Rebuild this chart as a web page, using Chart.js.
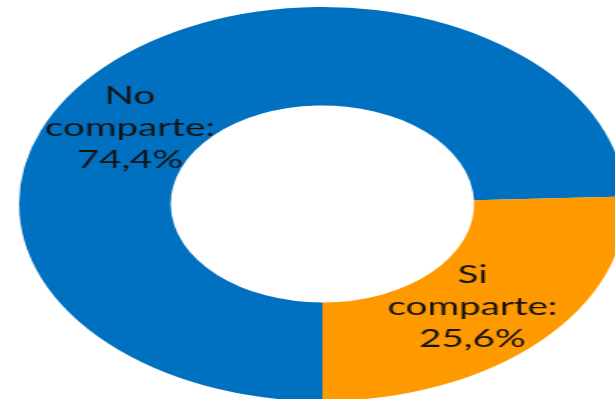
<!DOCTYPE html>
<html>
<head>
<meta charset="utf-8">
<script src="https://cdn.jsdelivr.net/npm/chart.js@4"></script>
<style>
  html, body { margin: 0; padding: 0; background: #fff; overflow: hidden; width: 615px; height: 399px; }
  #wrap { position: absolute; left: -1.4px; top: 0; transform: scaleX(1.54); transform-origin: 0 0; }
</style>
</head>
<body>
<div id="wrap"><canvas id="chart" width="420" height="420" style="width:420px;height:420px"></canvas></div>
<script>
const categories = ['No comparte', 'Si comparte'];
const shares = [74.4, 25.6];
const sliceColors = ['#0070C0', '#FF9900'];

// draws "No / comparte: / 74,4%" inside each slice
const sliceLabels = {
  id: 'sliceLabels',
  afterDatasetsDraw(chart, args, opts) {
    const ctx = chart.ctx;
    const meta = chart.getDatasetMeta(0);
    meta.data.forEach((arc, i) => {
      const p = arc.getProps(['x', 'y', 'startAngle', 'endAngle', 'innerRadius', 'outerRadius'], true);
      const mid = (p.startAngle + p.endAngle) / 2 + (opts.shift[i] || 0) * Math.PI / 180;
      const r = (p.innerRadius + p.outerRadius) / 2 * (opts.radial[i] || 1);
      const cx = p.x + Math.cos(mid) * r;
      const cy = p.y + Math.sin(mid) * r;
      const words = chart.data.labels[i].split(' ');
      const lines = [words.slice(0, -1).join(' '), words[words.length - 1] + ':',
        chart.data.datasets[0].data[i].toFixed(1).replace('.', ',') + '%'];
      ctx.save();
      ctx.font = opts.font;
      ctx.fillStyle = opts.color;
      ctx.textAlign = 'center';
      ctx.textBaseline = 'middle';
      lines.forEach((t, k) => {
        ctx.fillText(t, cx, cy + (k - (lines.length - 1) / 2) * opts.lineHeight);
      });
      ctx.restore();
    });
  }
};

new Chart(document.getElementById('chart'), {
  type: 'doughnut',
  data: {
    labels: categories,
    datasets: [{
      data: shares,
      backgroundColor: sliceColors,
      borderWidth: 0,
      hoverOffset: 0
    }]
  },
  options: {
    responsive: false,
    animation: false,
    rotation: 180,
    cutout: '50%',
    layout: { padding: { top: 7, bottom: 19, left: 13, right: 13 } },
    plugins: {
      legend: { display: false },
      tooltip: { enabled: false },
      sliceLabels: {
        font: '25px Lato',
        color: '#141414',
        lineHeight: 32,
        shift: [-12.6, 2.7],
        radial: [0.99, 0.96]
      }
    }
  },
  plugins: [sliceLabels]
});
</script>
</body>
</html>
